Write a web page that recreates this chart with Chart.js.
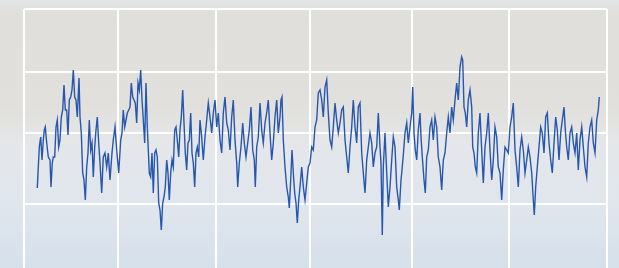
<!DOCTYPE html>
<html>
<head>
<meta charset="utf-8">
<script src="https://cdn.jsdelivr.net/npm/chart.js@4/dist/chart.umd.min.js"></script>
<style>
  html, body { margin: 0; padding: 0; overflow: hidden; }
  #wrap { width: 619px; height: 268px; position: relative; }
</style>
</head>
<body>
<div id="wrap"><canvas id="seriesChart"></canvas></div>
<script>
// Series (x = position along the axis, y = level)
const xValues = [
  13.3, 14, 15.3, 16.7, 18, 19.3, 20.3, 21.3, 22.7, 24.3, 26, 27, 28.3, 29.3, 30.7, 32, 33.3, 34.7, 36, 37.3,
  38.7, 40, 41.3, 42.7, 44, 45.3, 46.7, 48, 49.3, 50.7, 52, 53.3, 55, 56, 57.3, 58.7, 60, 61.3, 62.7, 64,
  65.3, 66.7, 68, 69.3, 70.7, 72, 73.3, 74.7, 76, 77.7, 79.3, 81, 82.7, 84.3, 86, 88, 89.3, 91, 92.7, 94.7,
  96.7, 98, 99.3, 100.7, 102, 103.3, 104.7, 106, 107.3, 108.7, 110, 111.3, 112.7, 114, 115.3, 116.7, 118, 119.3, 120.7, 122,
  123.3, 125.3, 126.7, 128, 129.3, 130.7, 132, 133.3, 134.7, 136, 137.3, 138.7, 140, 141.3, 142.7, 144, 145.3, 146.7, 148, 149.3,
  150.7, 152, 153.3, 154.7, 156, 157.3, 158.7, 160, 161.3, 162.7, 164, 165.3, 166.7, 168, 169.3, 170.7, 172, 173.3, 174.7, 176,
  177.5, 179.3, 181, 182.7, 184.3, 186, 187.7, 189.3, 191, 192.7, 194.3, 196, 197.7, 199.3, 201, 202.7, 204.3, 206, 207.7, 209.3,
  211, 212.7, 213.7, 215.3, 217, 218.7, 220.3, 222, 223.7, 225.3, 227, 228.7, 230.3, 231.3, 232.7, 234.3, 236, 237.7, 239.3, 241,
  242.7, 244.3, 246, 247.7, 249.3, 251, 252.7, 254.3, 256, 257, 258, 259.3, 261, 262.7, 264.3, 265.3, 266.7, 268, 269.3, 270.7,
  272, 273.3, 274.7, 276, 277.7, 279.3, 281, 282.7, 284.3, 286, 287.7, 289.3, 291, 292.7, 294.3, 296, 297.7, 299.3, 301, 302.7,
  304.3, 306, 307.7, 309.3, 311, 312.7, 314.3, 316, 317.7, 319.3, 321, 322.7, 324.3, 326, 327.7, 329.3, 331, 332.7, 334.3, 336,
  337.7, 339.3, 341, 342.7, 344.3, 346, 347.7, 349.3, 351, 352.7, 354.3, 356, 357, 358.3, 359.3, 361, 362.7, 364.3, 366, 367.7,
  369.3, 371, 372.7, 374.3, 375.3, 377, 378, 379.3, 381, 382.7, 384.3, 386, 387.7, 388.7, 390, 391.3, 392.7, 394.3, 396, 397,
  398.3, 400, 401.3, 402.7, 404.3, 406, 407.7, 409.3, 411, 412.7, 414.3, 416, 417.7, 419.3, 421, 422.7, 424.3, 426, 427.7, 429.3,
  431, 432.7, 434.3, 436, 437.7, 438.7, 440, 441.3, 442.7, 444.3, 446, 447.7, 448.7, 450, 451.3, 452.7, 454.3, 456, 457.7, 459.3,
  461, 462.7, 464.3, 466, 467.7, 469.3, 471, 472.7, 474.3, 476, 477.7, 479.3, 481, 482.7, 484.3, 486, 487.7, 489.3, 491, 492.7,
  494.3, 496, 497.7, 499.3, 501, 502.7, 504.3, 506, 507.7, 509.3, 510.3, 511.7, 513.3, 515, 516.7, 518.3, 520, 521.7, 523.3, 525,
  526.7, 528.3, 530, 531.7, 533.3, 535, 536.7, 538.3, 540, 541.3, 542.7, 544.3, 546, 547.7, 549.3, 551, 552.7, 554.3, 556, 557.7,
  559.3, 561, 562.7, 564.3, 566, 567.7, 569.3, 571, 572.7, 574.3, 575.3
];
const yValues = [
  80, 95, 121, 131, 108, 128, 138, 141, 125, 111, 108, 81, 105, 111, 111, 141, 148, 121, 128, 151,
  158, 183, 158, 158, 133, 168, 171, 178, 198, 171, 168, 151, 190, 151, 135, 95, 88, 68, 101, 115,
  148, 118, 125, 91, 121, 138, 151, 125, 105, 75, 111, 115, 101, 115, 88, 115, 128, 141, 118, 95,
  128, 135, 158, 141, 148, 155, 158, 161, 185, 171, 168, 165, 145, 185, 178, 198, 168, 148, 125, 185,
  141, 95, 91, 115, 75, 115, 118, 111, 65, 58, 38, 65, 71, 81, 108, 95, 68, 95, 108, 101,
  138, 141, 128, 111, 138, 151, 178, 145, 115, 98, 125, 128, 155, 115, 105, 81, 115, 121, 111, 148,
  133, 108, 131, 148, 165, 151, 135, 155, 168, 141, 155, 128, 115, 155, 171, 145, 138, 118, 151, 168,
  128, 105, 81, 105, 121, 145, 125, 111, 125, 138, 161, 118, 108, 81, 121, 131, 165, 138, 125, 145,
  155, 168, 135, 108, 125, 151, 168, 135, 151, 168, 171, 128, 101, 81, 71, 60, 88, 118, 95, 75,
  65, 45, 68, 81, 101, 81, 68, 85, 101, 105, 121, 118, 141, 148, 175, 178, 168, 151, 181, 188,
  155, 128, 121, 141, 165, 148, 135, 145, 158, 161, 128, 111, 95, 121, 141, 168, 141, 125, 161, 165,
  115, 95, 75, 108, 121, 135, 125, 101, 115, 121, 155, 121, 105, 33, 101, 135, 95, 61, 81, 108,
  131, 121, 81, 68, 58, 88, 98, 113, 135, 145, 125, 141, 155, 181, 135, 118, 108, 138, 155, 131,
  111, 88, 75, 111, 118, 141, 148, 128, 151, 141, 111, 101, 78, 108, 115, 135, 151, 135, 161, 148,
  168, 185, 168, 201, 211, 208, 161, 155, 141, 168, 178, 161, 121, 115, 101, 95, 135, 155, 118, 85,
  121, 135, 155, 118, 88, 108, 141, 131, 101, 95, 68, 98, 121, 118, 115, 141, 151, 165, 118, 101,
  81, 118, 131, 118, 95, 108, 121, 111, 95, 68, 53, 81, 101, 121, 141, 135, 115, 151, 155, 125,
  108, 95, 125, 151, 138, 108, 135, 148, 161, 138, 121, 108, 135, 141, 125, 115, 135, 98, 128, 141,
  121, 101, 91, 125, 141, 148, 125, 115, 148, 158, 171
];

// Axis range and grid positions
const xMin = 0;
const xMax = 583;
const xTicks = [0, 94, 192, 286, 388, 485, 583];
const yMin = 0;
const yMax = 259;
const yTicks = [64, 135, 196, 259];

const points = xValues.map((x, i) => ({ x: x, y: yValues[i] }));

// Soft background, warm grey at the top fading to pale blue
const backdrop = {
    id: 'backdrop',
    beforeDraw(chart) {
        const { ctx, width, height } = chart;
        const g = ctx.createLinearGradient(0, 0, 0, height);
        g.addColorStop(0, '#e3e5e6');
        g.addColorStop(0.05, '#e0dfdb');
        g.addColorStop(0.4, '#e1e0dc');
        g.addColorStop(0.55, '#e5e7ea');
        g.addColorStop(0.75, '#e0e6ed');
        g.addColorStop(1, '#d6e0eb');
        ctx.save();
        ctx.fillStyle = g;
        ctx.fillRect(0, 0, width, height);
        ctx.restore();
    }
};

new Chart(document.getElementById('seriesChart'), {
    type: 'line',
    data: {
        datasets: [{
            data: points,
            borderColor: '#2756ae',
            borderWidth: 1.4,
            pointRadius: 0,
            tension: 0,
            fill: false
        }]
    },
    options: {
        responsive: true,
        maintainAspectRatio: false,
        animation: false,
        layout: {
            padding: { left: 24, right: 12, top: 9, bottom: 0 }
        },
        plugins: {
            legend: { display: false },
            tooltip: { enabled: false }
        },
        scales: {
            x: {
                type: 'linear',
                min: xMin,
                max: xMax,
                afterBuildTicks: scale => {
                    scale.ticks = xTicks.map(v => ({ value: v }));
                },
                ticks: { display: false },
                grid: { color: '#ffffff', lineWidth: 2, drawTicks: false },
                border: { display: false }
            },
            y: {
                min: yMin,
                max: yMax,
                afterBuildTicks: scale => {
                    scale.ticks = yTicks.map(v => ({ value: v }));
                },
                ticks: { display: false },
                grid: { color: '#ffffff', lineWidth: 2, drawTicks: false },
                border: { display: false }
            }
        }
    },
    plugins: [backdrop]
});
</script>
</body>
</html>
